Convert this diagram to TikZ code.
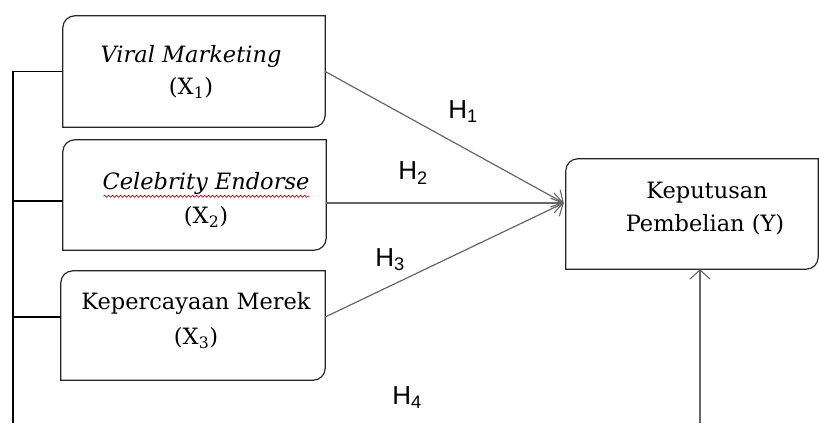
\documentclass[tikz,border=0pt]{standalone}
\usepackage{fontspec}
\setmainfont{DejaVu Serif}
\newfontfamily\hfont{Liberation Sans}
\usetikzlibrary{calc,arrows.meta,decorations.pathmorphing}
\tikzset{
  boxarea/.style={draw=none,inner sep=0pt,minimum width=#1},
  boxtext/.style={font=\fontsize{22.5}{27}\selectfont,inner sep=0pt,anchor=center},
  hlabel/.style={font=\hfont\fontsize{26}{30}\selectfont,inner sep=0pt},
  frameline/.style={draw=black!85,line width=1.2pt},
  trunkline/.style={draw=black,line width=1.3pt},
  pathline/.style={draw=black!60,line width=1.2pt,-{Straight Barb[length=9pt,width=20pt,line width=1.1pt]}},
}
\newcommand{\halfround}[1]{%
  \draw[frameline] (#1.south west) -- ($(#1.north west)+(0,-12pt)$)
    arc[start angle=180,end angle=90,radius=12pt] -- (#1.north east)
    -- ($(#1.south east)+(0,12pt)$)
    arc[start angle=0,end angle=-90,radius=12pt] -- cycle;}
\begin{document}
\begin{tikzpicture}[x=1pt,y=1pt]
\useasboundingbox (0,0) rectangle (819,423);
% boxes
\node[boxarea=262pt,minimum height=111pt] (b1) at (194,351.5) {};
\node[boxarea=263pt,minimum height=110pt] (b2) at (194.5,228) {};
\node[boxarea=264pt,minimum height=109pt] (b3) at (193,97.5) {};
\node[boxarea=252pt,minimum height=110pt] (bY) at (692,209) {};
\halfround{b1}
\halfround{b2}
\halfround{b3}
\halfround{bY}
% texts
\node[boxtext] (t1a) at (191,367) {\itshape Viral Marketing};
\node[boxtext] (t1b) at (191,335) {(X\textsubscript{1})};
\node[boxtext] (t2a) at (206,240) {\itshape Celebrity Endorse};
\node[boxtext] (t2b) at (206,206) {(X\textsubscript{2})};
\node[boxtext] (t3a) at (196,120) {Kepercayaan Merek};
\node[boxtext] (t3b) at (196,85) {(X\textsubscript{3})};
\node[boxtext] (tYa) at (707,230) {Keputusan};
\node[boxtext] (tYb) at (705,198) {Pembelian (Y)};
% spell-check underline
\draw[red!85!black,line width=0.6pt,decorate,decoration={snake,amplitude=1pt,segment length=4pt}]
  ($(t2a.south west)+(1,-2)$) -- ($(t2a.south east)+(0,-2)$);
% left trunk
\coordinate (trunkEnd) at (13,0);
\draw[trunkline] (b1.west) -| (trunkEnd);
\draw[trunkline] ([yshift=-6pt]b2.west) -- ([yshift=-6pt]b2.west -| trunkEnd);
\draw[trunkline] ([yshift=8.5pt]b3.west) -- ([yshift=8.5pt]b3.west -| trunkEnd);
% arrows to Y
\coordinate (tip) at ([xshift=-2pt,yshift=11pt]bY.west);
\draw[pathline] (b1.east) -- (tip);
\draw[pathline] ([yshift=-8pt]b2.east) -- (tip);
\draw[pathline] ([yshift=8.5pt]b3.east) -- (tip);
\coordinate (bottom) at (700,0);
\draw[pathline] (bottom) -- (bottom |- bY.south);
% labels
\node[hlabel] (h1) at (463,311) {H\textsubscript{1}};
\node[hlabel] (h2) at (413,250) {H\textsubscript{2}};
\node[hlabel] (h3) at (390,163) {H\textsubscript{3}};
\node[hlabel] (h4) at (407,25) {H\textsubscript{4}};
\end{tikzpicture}
\end{document}
